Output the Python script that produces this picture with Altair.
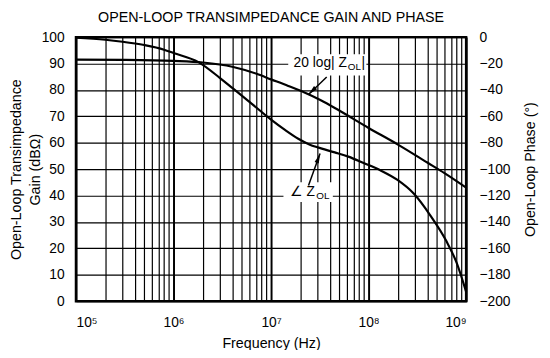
import altair as alt
import pandas as pd

# ---- data ----
freq_gain = [1e5, 3e5, 1e6, 2e6, 4e6, 7e6, 1e7, 1.5e7, 2.2e7, 3.2e7, 5e7, 1e8, 2e8, 4e8, 6e8, 1e9]
gain_db = [91.5, 91.4, 91.0, 90.4, 88.8, 86.2, 84.0, 81.5, 79.0, 76.2, 72.2, 65.6, 59.3, 52.5, 48.5, 43.0]

freq_phase = [1e5, 2e5, 3e5, 5e5, 8e5, 1e6, 1.8e6, 3e6, 4e6, 6e6, 1e7, 1.4e7, 1.9e7, 2.5e7, 3e7, 4.5e7,
              6.2e7, 9e7, 1.33e8, 1.96e8, 2.9e8, 4.27e8, 6.29e8, 8e8, 1e9]
phase_deg = [-0.5, -2, -3.5, -6, -9.5, -12, -18.9, -31, -38.5, -49, -62.5, -70.5, -77, -81.5, -83.5,
             -87.3, -90.5, -95.5, -101, -108, -118.5, -134.8, -154.7, -171, -193]

decades = [1e5, 1e6, 1e7, 1e8, 1e9]
x_grid = [m * d for d in decades[:-1] for m in range(1, 10)] + [decades[-1]]
gain_ticks = list(range(0, 101, 10))
phase_ticks = list(range(-200, 1, 20))

# annotation boxes / labels / arrows (in frequency, gain-dB units)
box_f1 = [1.5e7, 1.34e7]
box_f2 = [9.5e7, 4.3e7]
box_g1 = [85.5, 37.6]
box_g2 = [93.5, 45.0]
lab_f = [1.7e7, 1.55e7]
lab_g = [90.0, 41.3]
lab_main = ["20 log| Z", "\u2220 Z"]
arr_f1 = [3.72e7, 2.42e7]
arr_g1 = [84.9, 43.8]
arr_f2 = [2.42e7, 3.18e7]
arr_g2 = [78.3, 55.9]
arr_angle = [226, 20]

FONT = "Liberation Sans"

gain_df = pd.DataFrame({"f": freq_gain, "g": gain_db})
phase_df = pd.DataFrame({"f": freq_phase, "p": phase_deg})
box_df = pd.DataFrame({"f": box_f1, "f2": box_f2, "g": box_g1, "g2": box_g2})
lab_df = pd.DataFrame({"f": lab_f, "g": lab_g, "t": lab_main})
arr_df = pd.DataFrame({"f": arr_f1, "g": arr_g1, "f2": arr_f2, "g2": arr_g2, "a": arr_angle})

xscale = alt.Scale(type="log", domain=[1e5, 1e9], nice=False)
gscale = alt.Scale(domain=[0, 100], nice=False, zero=False)
pscale = alt.Scale(domain=[-200, 0], nice=False, zero=False)

dec_list = "[100000,1000000,10000000,100000000,1000000000]"
dec_test = "indexof(" + dec_list + ", datum.value) >= 0"
sup_expr = ("indexof(" + dec_list + ", datum.value) >= 0 ? "
            "'10' + ['\u2075','\u2076','\u2077','\u2078','\u2079'][indexof(" + dec_list + ", datum.value)] : ''")

x_axis = alt.Axis(
    values=x_grid, grid=True, gridColor="black",
    gridWidth={"condition": {"test": dec_test, "value": 2}, "value": 1.2},
    gridOpacity=1, ticks=False, domain=False, labelExpr=sup_expr, labelOverlap=False,
    labelFont=FONT, labelFontSize=14, labelColor="black", labelPadding=15,
    title="Frequency (Hz)", titleFont=FONT, titleFontSize=14.5, titleFontWeight="normal",
    titleColor="black", titlePadding=7,
)
g_axis = alt.Axis(
    values=gain_ticks, grid=True, gridColor="black", gridWidth=1.2, gridOpacity=1,
    ticks=False, domain=False, labelFont=FONT, labelFontSize=14, labelColor="black",
    labelPadding=12, title=["Open-Loop Transimpedance", "Gain (dB\u03a9)"], titleFont=FONT,
    titleFontSize=14.5, titleFontWeight="normal", titleColor="black", titlePadding=-1,
    titleLineHeight=19,
)
p_axis = alt.Axis(
    orient="right", values=phase_ticks, grid=False, ticks=False, domain=False,
    labelFont=FONT, labelFontSize=14, labelColor="black", labelPadding=13,
    title="Open-Loop Phase (\u00b0)", titleFont=FONT, titleFontSize=14.5, titleAngle=270,
    titleFontWeight="normal", titleColor="black", titlePadding=28,
)


def X(field):
    return alt.X(field, type="quantitative", scale=xscale, axis=x_axis)


def YG(field):
    return alt.Y(field, type="quantitative", scale=gscale, axis=g_axis)


gain_line = alt.Chart(gain_df).mark_line(color="black", strokeWidth=2.2, interpolate="monotone").encode(
    x=X("f"), y=YG("g"),
)

boxes = alt.Chart(box_df).mark_rect(color="white").encode(
    x=X("f"), x2="f2:Q", y=YG("g"), y2="g2:Q",
)

labels = alt.Chart(lab_df).mark_text(align="left", baseline="middle", font=FONT, fontSize=14,
                                     color="black").encode(
    x=X("f"), y=YG("g"), text="t:N",
)
sub1 = alt.Chart(lab_df.iloc[[0]]).mark_text(align="left", baseline="middle", font=FONT, fontSize=10,
                                             color="black", dx=55, dy=4).encode(
    x=X("f"), y=YG("g"), text=alt.value("OL"),
)
bar1 = alt.Chart(lab_df.iloc[[0]]).mark_text(align="left", baseline="middle", font=FONT, fontSize=14,
                                             color="black", dx=69).encode(
    x=X("f"), y=YG("g"), text=alt.value("|"),
)
sub2 = alt.Chart(lab_df.iloc[[1]]).mark_text(align="left", baseline="middle", font=FONT, fontSize=10,
                                             color="black", dx=27, dy=4).encode(
    x=X("f"), y=YG("g"), text=alt.value("OL"),
)

shafts = alt.Chart(arr_df).mark_rule(color="black", strokeWidth=1.5).encode(
    x=X("f"), x2="f2:Q", y=YG("g"), y2="g2:Q",
)
heads = alt.Chart(arr_df).mark_point(shape="M0,0L0.45,2L-0.45,2Z", filled=True, color="black",
                                     opacity=1, size=100).encode(
    x=X("f2"), y=YG("g2"), angle=alt.Angle("a:Q", scale=None),
)

gain_group = alt.layer(gain_line, boxes, labels, sub1, bar1, sub2, shafts, heads)

phase_line = alt.Chart(phase_df).mark_line(color="black", strokeWidth=2.2, interpolate="monotone").encode(
    x=X("f"),
    y=alt.Y("p:Q", scale=pscale, axis=p_axis),
)

chart = alt.layer(gain_group, phase_line).resolve_scale(y="independent").properties(
    width=396, height=268,
    autosize=alt.AutoSizeParams(type="none"),
    padding={"left": 69, "top": 27, "right": 77, "bottom": 47},
    title=alt.Title("OPEN-LOOP TRANSIMPEDANCE GAIN AND PHASE", font=FONT, fontSize=14.5,
                    fontWeight="normal", color="black", offset=5),
).configure(background="white").configure_view(stroke="black", strokeWidth=2.5)

chart.save("out.html", embed_options={"renderer": "svg", "actions": False})
